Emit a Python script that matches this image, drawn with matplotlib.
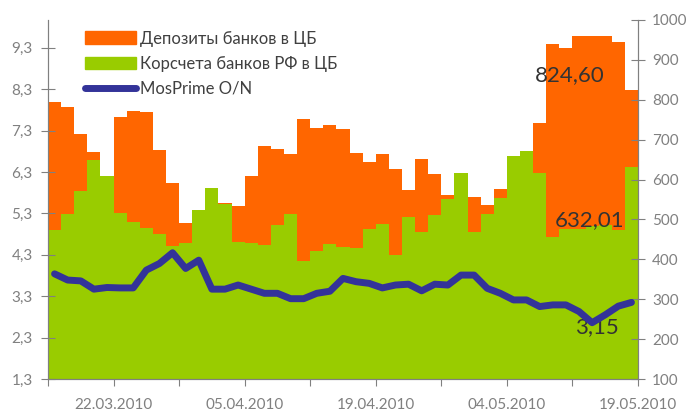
import numpy as np
import matplotlib.pyplot as plt
from matplotlib.patches import Patch
from matplotlib.lines import Line2D

plt.rcParams['font.family'] = ['Lato', 'DejaVu Sans']

# deposits of banks at the CBR (bn rub), right axis
deposits = [794, 781, 714, 669, 560, 756, 771, 769, 674, 591,
            491, 500, 540, 541, 534, 609, 684, 676, 664, 751,
            729, 736, 726, 666, 644, 664, 626, 574, 651, 614,
            561, 590, 556, 536, 576, 620, 640, 741, 939, 929,
            959, 961, 959, 944, 824.60]
# correspondent accounts of banks at the CBR, right axis
korschet = [474, 514, 571, 649, 609, 516, 494, 479, 464, 434,
            441, 524, 578, 539, 444, 440, 437, 486, 514, 396,
            421, 439, 432, 429, 476, 489, 411, 506, 469, 511,
            551, 616, 469, 514, 554, 659, 671, 616, 456, 476,
            476, 484, 486, 474, 632.01]
# MosPrime O/N, left axis
mosprime = [3.84, 3.69, 3.67, 3.47, 3.51, 3.50, 3.50, 3.93, 4.09, 4.35,
            3.97, 4.17, 3.47, 3.47, 3.57, 3.47, 3.37, 3.37, 3.24, 3.24,
            3.37, 3.42, 3.73, 3.65, 3.61, 3.50, 3.57, 3.59, 3.43, 3.59,
            3.57, 3.81, 3.81, 3.49, 3.37, 3.21, 3.21, 3.05, 3.09, 3.09,
            2.93, 2.66, 2.85, 3.06, 3.15]
date_labels = ['', '22.03.2010', '', '05.04.2010', '', '19.04.2010',
               '', '04.05.2010', '', '19.05.2010']
left_ticks = [1.3, 2.3, 3.3, 4.3, 5.3, 6.3, 7.3, 8.3, 9.3]
right_ticks = [100, 200, 300, 400, 500, 600, 700, 800, 900, 1000]

orange = '#FF6600'
green = '#99CC00'
navy = '#333399'
gray = '#808080'
txt = '#404040'

fig = plt.figure(figsize=(6.89, 4.15), dpi=100)
ax = fig.add_axes([48/689, 1-379/415, 590/689, 359/415])
n = len(deposits)
x = np.arange(n)

ax.bar(x, deposits, width=1.0, align='edge', color=orange, linewidth=0)
ax.bar(x, korschet, width=1.0, align='edge', color=green, linewidth=0)
ax.set_xlim(0, n)
ax.set_ylim(100, 1000)
ax.set_xticks(range(0, n + 1, 5), date_labels)

ax2 = ax.twinx()
ax2.plot(x + 0.5, mosprime, color=navy, lw=5, solid_joinstyle='round',
         solid_capstyle='round')
ax2.set_ylim(1.3, 1.3 + 359/41.4)

# bars on the right scale, rate on the left scale
ax.yaxis.tick_right()
ax.yaxis.set_label_position('right')
ax.set_yticks(right_ticks, [str(v) for v in right_ticks])
ax2.yaxis.tick_left()
ax2.yaxis.set_label_position('left')
ax2.set_yticks(left_ticks, [f'{v:.1f}'.replace('.', ',') for v in left_ticks])

for a in (ax, ax2):
    for s in a.spines.values():
        s.set_color(gray)
    a.spines['top'].set_visible(False)
    a.tick_params(colors=gray, labelcolor=gray, labelsize=11)
ax.tick_params(axis='y', direction='inout', length=10, pad=5)
ax2.tick_params(axis='y', direction='inout', length=10, pad=6)
ax.tick_params(axis='x', direction='out', length=5, pad=9)

ax.text(39.8, 861, '824,60', fontsize=16, color='#333333', ha='center', va='center')
ax.text(41.3, 499, '632,01', fontsize=16, color='#333333', ha='center', va='center')
ax.text(41.9, 229, '3,15', fontsize=16, color='#333333', ha='center', va='center')

handles = [Patch(color=orange), Patch(color=green),
           Line2D([], [], color=navy, lw=5, solid_capstyle='round')]
labels = ['Депозиты банков в ЦБ', 'Корсчета банков РФ в ЦБ', 'MosPrime O/N']
leg = fig.legend(handles, labels, loc='upper left', bbox_to_anchor=(78/689, 1-24/415),
                 frameon=False, fontsize=12, handlelength=3.1, handleheight=0.8,
                 handletextpad=0.2, labelspacing=0.55, borderaxespad=0)
for t in leg.get_texts():
    t.set_color(txt)

fig.savefig('out.png', dpi=100)
